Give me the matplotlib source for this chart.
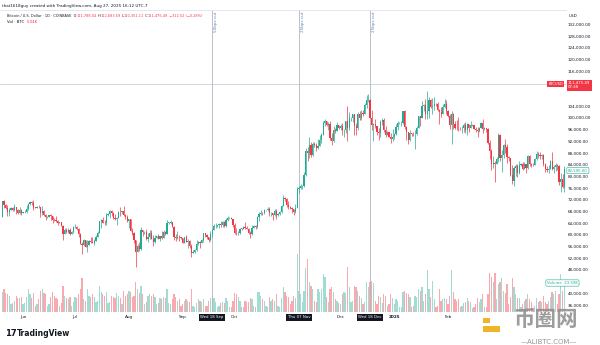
import numpy as np
import pandas as pd
import matplotlib
matplotlib.use('Agg')
import matplotlib.pyplot as plt
import matplotlib.dates as mdates
import matplotlib.transforms as mtrans

W, H = 600, 345
UP = '#22ab94'
DOWN = '#f23645'
TXT = '#131722'

# BTCUSD daily candles (Coinbase), prices in thousands of USD, from 2024-05-20
start = '2024-05-20'
first_open = 66.27
close = [
    71.45, 70.14, 69.12, 67.93, 68.53, 69.27, 68.50, 69.39, 68.36, 67.63, 68.35, 67.49,
    67.71, 67.75, 68.80, 70.57, 71.08, 70.76, 69.34, 69.31, 69.65, 69.51, 67.33, 68.24, 66.76, 66.01, 66.19,
    66.64, 66.49, 65.14, 64.96, 64.83, 64.10, 64.25, 63.18, 60.28, 61.80, 60.86, 61.67, 60.32, 60.89, 62.68,
    62.85, 62.03, 60.17, 57.03, 56.63, 58.23, 55.85, 56.70, 58.05, 57.72, 57.34, 57.90, 59.23, 60.80, 64.72,
    65.04, 64.09, 63.97, 66.71, 67.16, 68.16, 67.58, 65.93, 65.37, 65.78, 67.91, 67.81, 68.25, 66.78, 66.19, 64.62,
    65.35, 61.50, 60.68, 58.12, 54.02, 56.04, 55.03, 61.71, 60.88, 60.94, 58.71, 59.35, 60.60, 58.74, 57.56,
    58.87, 59.48, 58.48, 59.49, 59.01, 61.16, 60.38, 64.10, 64.18, 64.25, 62.83, 59.42, 59.03, 59.37, 59.12, 58.97,
    57.30, 59.13, 57.48, 57.97, 56.16, 53.95, 54.16, 54.87, 57.05, 57.65, 57.34, 58.13, 60.55, 60.00, 59.19,
    58.21, 60.31, 61.76, 62.95, 63.20, 63.35, 63.58, 63.34, 64.26, 63.14, 65.18, 65.79, 65.89, 65.60, 63.33,
    60.80, 60.63, 60.75, 62.07, 62.06, 62.82, 62.22, 62.13, 60.58, 60.27, 62.45, 63.19, 62.85, 66.08, 67.04,
    67.61, 67.38, 68.36, 68.37, 69.00, 67.37, 67.37, 66.68, 68.16, 66.64, 67.01, 67.93, 69.91, 72.72, 72.34, 70.22,
    69.48, 69.33, 68.74, 67.81, 69.36, 75.64, 75.90, 76.55, 76.69, 80.47, 88.70, 87.96, 90.58, 87.25, 91.07,
    90.59, 89.85, 90.46, 92.31, 94.29, 98.32, 98.89, 97.67, 97.90, 93.01, 91.97, 95.86, 95.64, 97.46, 96.41,
    97.19, 95.84, 96.00, 98.77, 96.59, 99.92, 99.92, 101.17, 97.32, 96.61, 101.17, 100.04, 101.46, 101.37, 104.30,
    106.03, 106.14, 100.04, 97.49, 97.76, 97.22, 95.10, 94.69, 98.68, 99.43, 95.79, 94.16, 95.16, 93.53, 92.64, 93.43,
    94.42, 96.89, 98.11, 98.23, 98.35, 102.24, 96.95, 95.04, 92.55, 94.73, 94.57, 94.49, 94.52, 96.53, 100.50,
    99.99, 104.08, 104.56, 101.33, 102.26, 106.15, 103.65, 103.96, 104.82, 104.71, 102.60, 102.08, 101.33, 103.73, 104.74, 102.40,
    100.65, 97.69, 101.40, 97.87, 96.62, 96.56, 96.53, 96.47, 96.50, 97.43, 95.78, 97.87, 96.62, 97.51,
    97.57, 96.12, 95.77, 95.54, 96.63, 98.33, 96.13, 96.58, 96.27, 91.55, 88.69, 84.37, 84.70, 84.37,
    86.03, 94.24, 86.12, 87.22, 90.62, 89.96, 86.74, 86.15, 80.60, 78.53, 82.86, 83.72, 81.07, 83.97, 84.34,
    82.58, 84.08, 82.72, 86.85, 84.17, 84.04, 83.83, 86.05, 87.50, 87.47, 86.90, 87.18, 84.35, 82.59, 82.34, 82.55,
    85.16, 82.51, 83.10, 83.84, 83.50, 78.21, 79.20, 76.27, 82.595,
]
high = [
    71.52, 71.95, 70.62, 70.07, 69.20, 69.56, 69.50, 70.59, 69.55, 68.90, 69.50, 69.00,
    67.86, 68.41, 70.22, 71.04, 71.76, 71.62, 71.95, 69.55, 69.85, 70.15, 69.56, 69.98, 68.40, 67.30, 66.42,
    66.90, 67.19, 66.48, 65.73, 66.43, 65.03, 64.50, 64.53, 63.37, 62.35, 62.47, 62.30, 62.20, 61.20, 63.08,
    63.80, 62.93, 62.26, 60.48, 57.53, 58.47, 58.27, 58.20, 58.27, 59.44, 59.43, 58.55, 59.85, 61.40, 64.88,
    65.30, 66.05, 65.10, 67.45, 67.60, 68.36, 68.45, 67.78, 67.08, 66.15, 68.22, 69.40, 68.30, 70.00, 66.98, 66.80,
    65.60, 65.55, 62.20, 61.10, 58.30, 57.05, 57.70, 62.75, 61.75, 61.45, 61.85, 60.70, 61.57, 61.80, 59.85,
    59.80, 59.65, 60.26, 59.62, 61.40, 61.80, 61.40, 64.95, 64.50, 65.00, 64.50, 63.20, 60.20, 61.20, 59.90, 59.45,
    59.00, 59.40, 59.80, 58.50, 58.30, 56.96, 54.85, 55.30, 58.10, 58.00, 57.99, 58.60, 60.65, 60.60, 60.40,
    59.20, 61.30, 62.00, 63.85, 64.13, 63.55, 64.00, 64.75, 64.80, 64.70, 65.80, 66.50, 66.25, 66.08, 65.60,
    64.10, 62.40, 61.50, 62.45, 62.35, 63.00, 64.45, 63.20, 62.50, 61.30, 63.40, 63.45, 63.27, 66.50, 67.88,
    68.38, 67.90, 68.95, 68.66, 69.40, 69.50, 67.80, 67.42, 68.80, 68.75, 67.35, 68.28, 70.25, 73.62, 72.95, 72.70,
    71.60, 69.88, 69.40, 68.90, 70.55, 76.40, 76.85, 77.25, 76.95, 81.50, 89.60, 89.95, 93.43, 91.80, 91.85,
    91.74, 91.40, 92.65, 94.00, 94.90, 98.90, 99.58, 98.75, 98.60, 98.85, 94.75, 97.25, 96.65, 98.70, 97.45,
    97.85, 98.15, 96.30, 99.00, 103.90, 101.90, 100.45, 101.40, 101.35, 98.25, 101.90, 102.50, 102.60, 102.60, 105.20,
    107.80, 108.27, 106.50, 102.80, 98.10, 99.50, 97.30, 96.40, 99.40, 99.95, 99.95, 97.30, 95.65, 95.20, 94.90, 96.10,
    94.95, 97.75, 98.95, 98.70, 98.80, 102.50, 102.70, 97.25, 95.35, 95.85, 94.95, 95.35, 95.85, 97.35, 100.70,
    100.80, 105.90, 104.90, 106.30, 109.35, 107.20, 106.30, 106.80, 107.10, 105.25, 105.45, 103.20, 103.75, 104.80, 106.45, 106.00,
    102.80, 101.45, 102.50, 101.75, 99.00, 99.20, 100.20, 96.85, 97.30, 98.35, 98.50, 98.10, 97.95, 98.80,
    97.95, 97.70, 97.05, 96.75, 96.90, 98.75, 99.50, 96.90, 96.65, 96.50, 92.50, 89.35, 87.00, 85.10,
    86.60, 95.00, 94.40, 88.90, 91.00, 92.80, 91.20, 86.85, 86.45, 83.95, 83.60, 84.35, 84.30, 85.20, 84.65,
    85.00, 84.80, 84.00, 87.40, 87.40, 84.75, 84.50, 86.20, 88.75, 88.50, 88.30, 87.80, 87.50, 84.60, 83.55, 83.90,
    85.50, 88.50, 83.95, 84.70, 84.20, 83.80, 81.20, 80.80, 83.50,
]
low = [
    66.06, 69.16, 68.98, 66.31, 66.61, 68.39, 68.24, 68.25, 67.28, 67.12, 67.13, 66.66,
    67.44, 67.32, 67.63, 68.55, 70.38, 70.15, 68.50, 69.21, 69.13, 69.23, 66.13, 66.92, 66.30, 65.08, 65.89,
    66.05, 65.13, 64.07, 64.69, 64.53, 63.38, 63.95, 63.17, 58.40, 60.25, 60.69, 60.60, 60.02, 60.30, 60.75,
    62.52, 61.81, 59.45, 56.80, 53.49, 56.08, 55.78, 54.30, 56.40, 57.20, 57.10, 56.55, 57.78, 59.23, 60.65,
    62.40, 63.90, 63.24, 63.30, 66.56, 65.80, 66.60, 65.45, 65.13, 63.48, 65.75, 66.60, 67.05, 66.52, 65.35, 64.53,
    62.30, 61.20, 59.85, 57.20, 49.05, 54.00, 54.55, 54.75, 59.60, 60.30, 58.30, 57.65, 58.50, 58.43, 56.17,
    57.10, 58.80, 58.43, 57.85, 58.60, 58.80, 59.80, 60.36, 63.58, 63.80, 62.80, 58.10, 57.85, 58.75, 57.77, 58.75,
    57.20, 57.17, 57.42, 55.60, 55.65, 52.55, 53.75, 53.65, 54.60, 56.40, 55.55, 57.35, 57.65, 59.45, 58.72,
    57.50, 57.85, 59.20, 61.60, 62.35, 62.78, 62.40, 62.60, 62.70, 62.70, 62.70, 64.83, 65.43, 65.43, 62.85,
    60.20, 59.98, 59.83, 60.45, 61.70, 61.87, 62.15, 61.85, 60.30, 58.90, 60.08, 62.43, 62.08, 62.45, 64.81,
    66.75, 66.70, 67.10, 68.03, 68.08, 66.60, 66.58, 65.26, 66.55, 65.55, 66.50, 66.80, 67.58, 69.73, 71.45, 69.70,
    68.80, 68.96, 67.45, 66.80, 67.46, 69.30, 74.42, 75.55, 75.82, 76.49, 80.20, 85.10, 86.25, 86.65, 87.12,
    90.05, 88.80, 89.30, 90.95, 91.55, 94.10, 97.20, 97.20, 95.80, 92.60, 90.80, 91.80, 94.70, 95.40, 96.20,
    95.75, 94.20, 93.60, 94.70, 92.10, 95.95, 98.95, 98.75, 94.30, 94.25, 95.70, 99.40, 99.20, 100.65, 101.25,
    103.30, 105.30, 100.00, 95.70, 92.20, 96.40, 94.20, 92.40, 93.40, 97.60, 95.20, 93.30, 94.20, 93.30, 91.30, 92.20,
    92.80, 94.20, 96.00, 97.75, 97.25, 97.90, 96.20, 92.50, 91.20, 92.20, 93.85, 93.70, 89.25, 94.30, 96.50,
    97.30, 99.95, 102.30, 99.60, 99.50, 100.10, 103.40, 101.25, 102.80, 104.15, 102.50, 97.75, 100.30, 101.30, 103.30, 101.50,
    100.30, 96.20, 91.20, 96.15, 96.20, 95.70, 95.65, 95.70, 94.70, 95.25, 94.85, 94.10, 95.30, 96.50,
    97.25, 96.05, 95.25, 93.40, 95.05, 96.40, 94.85, 95.75, 95.25, 91.20, 86.10, 82.25, 82.75, 78.20,
    84.20, 85.05, 85.10, 81.50, 86.40, 87.90, 84.70, 85.30, 80.10, 77.50, 76.55, 80.00, 79.95, 80.80, 83.65,
    82.10, 82.50, 81.20, 82.70, 83.70, 83.20, 83.65, 83.75, 85.50, 86.30, 85.90, 85.85, 83.60, 81.65, 81.60, 81.30,
    82.40, 82.30, 81.20, 81.70, 82.35, 77.15, 74.50, 76.20, 74.60,
]
# daily volume, thousands of BTC
volume = [
    16, 18, 15, 14, 13, 6, 7, 9, 13, 11, 11, 12,
    6, 7, 12, 18, 14, 11, 15, 5, 6, 10, 17, 18, 15, 14, 5,
    6, 12, 16, 13, 11, 10, 5, 7, 21, 13, 11, 10, 12, 5, 8,
    12, 11, 14, 18, 27, 10, 9, 18, 13, 12, 14, 12, 8, 9, 21,
    16, 14, 13, 16, 7, 8, 13, 12, 11, 15, 13, 11, 6, 17, 13, 14,
    17, 16, 12, 13, 24, 18, 15, 21, 14, 6, 8, 13, 14, 13, 14,
    12, 6, 7, 11, 10, 12, 11, 18, 7, 6, 10, 14, 12, 9, 10, 5,
    6, 9, 10, 9, 8, 18, 5, 4, 7, 10, 9, 8, 10, 5, 5,
    9, 11, 13, 11, 8, 4, 5, 7, 8, 7, 11, 9, 4, 4, 9,
    15, 14, 12, 9, 4, 4, 9, 8, 8, 11, 10, 5, 4, 16, 16,
    13, 10, 9, 5, 4, 12, 9, 10, 9, 14, 5, 4, 11, 20, 16, 13,
    12, 6, 9, 13, 11, 46, 17, 14, 8, 17, 35, 42, 24, 21, 18,
    9, 8, 18, 16, 18, 30, 28, 12, 8, 18, 20, 16, 10, 9, 7,
    6, 14, 16, 15, 36, 20, 8, 9, 21, 20, 17, 13, 11, 6, 8,
    24, 20, 24, 25, 23, 9, 6, 13, 12, 7, 14, 13, 5, 6, 14, 11,
    6, 10, 9, 4, 4, 16, 17, 15, 14, 12, 4, 5, 13, 12, 18,
    17, 20, 9, 14, 33, 18, 12, 25, 10, 4, 5, 18, 9, 10, 11, 10,
    6, 13, 33, 16, 10, 9, 10, 4, 5, 7, 8, 11, 9, 8,
    3, 4, 6, 11, 8, 10, 14, 4, 4, 14, 31, 28, 24, 31,
    10, 22, 24, 27, 17, 15, 22, 6, 12, 27, 20, 14, 11, 11, 4,
    6, 9, 10, 14, 10, 8, 3, 5, 11, 8, 9, 8, 13, 8, 6, 9,
    12, 16, 14, 17, 6, 14, 30, 17, 23.59,
]

events = [('2024-09-18', '50bps cut', 'Wed 18 Sep'),
          ('2024-11-07', '25bps cut', 'Thu 07 Nov'),
          ('2024-12-18', '25bps cut', 'Wed 18 Dec')]
month_ticks = ['2024-06-01', '2024-07-01', '2024-08-01', '2024-09-01',
               '2024-10-01', '2024-12-01', '2025-01-01', '2025-02-01']
month_labels = ['Jun', 'Jul', 'Aug', 'Sep', 'Oct', 'Dec', '2025', 'Feb']
# price levels shown on the right scale (108k and 44k sit under the tag boxes)
price_ticks = [36000, 40000, 48000, 52000, 56000, 60000, 64000, 68000, 72000, 76000, 80000,
               84000, 88000, 92000, 96000, 100000, 104000, 116000, 120000, 124000, 128000, 132000]
last_price = 111475.49

plt.rcParams['font.family'] = ['DejaVu Sans', 'Noto Sans CJK SC']

dates = pd.date_range(start, periods=len(close), freq='D')
x = mdates.date2num(dates)
c = np.array(close) * 1000
o = np.r_[first_open, close[:-1]] * 1000
h = np.maximum(np.array(high) * 1000, np.maximum(o, c))
l = np.minimum(np.array(low) * 1000, np.minimum(o, c))
up = c >= o
cols = np.where(up, UP, DOWN)

fig = plt.figure(figsize=(W / 100, H / 100), dpi=100)
ax = fig.add_axes([0, 33 / H, 566 / W, 302 / H])
axv = ax.twinx()

# volume pane underneath the candles
axv.bar(x, volume, width=0.72, color=cols, alpha=0.42, linewidth=0)
axv.set_ylim(0, 240)
axv.set_axis_off()
ax.set_zorder(axv.get_zorder() + 1)
ax.patch.set_visible(False)

ax.vlines(x, l, h, colors=cols, linewidth=0.5)
ax.bar(x, np.maximum(np.abs(c - o), 150), bottom=np.minimum(o, c),
       width=0.7, color=cols, linewidth=0)

ax.set_xlim(x[0] - 1.3, x[0] + 325.0)
ax.set_ylim(33641, 136889)

ax.yaxis.tick_right()
ax.set_yticks(price_ticks)
ax.set_yticklabels([f'{v:,.2f}' for v in price_ticks])
ax.set_xticks(mdates.date2num(pd.to_datetime(month_ticks)))
ax.set_xticklabels(month_labels)
ax.get_xticklabels()[month_labels.index('2025')].set_fontweight('bold')
ax.tick_params(axis='y', length=0, pad=1.5, labelsize=3.0, labelcolor=TXT)
ax.tick_params(axis='x', length=0, pad=2.5, labelsize=3.0, labelcolor=TXT)
for s in ['left', 'right', 'bottom']:
    ax.spines[s].set_visible(False)
ax.spines['top'].set_color('#e0e3eb')
ax.spines['top'].set_linewidth(0.6)

# last price line and its labels
ax.axhline(last_price, color='#c3c6ce', lw=0.5, zorder=1)
ax.text(563 / 566, last_price, 'BTCUSD', transform=ax.get_yaxis_transform(),
        ha='right', va='center', fontsize=2.6, color='white',
        bbox=dict(boxstyle='square,pad=0.3', fc=DOWN, ec='none'))
fig.text(568 / W, 1 - 81 / H, f'{last_price:,.2f}\n07:48', ha='left', va='top',
         fontsize=2.8, color='white', linespacing=1.1,
         bbox=dict(boxstyle='square,pad=0.35', fc=DOWN, ec='none'))
fig.text(568 / W, 1 - 170.5 / H, f'{c[-1]:,.2f}', ha='left', va='center',
         fontsize=2.8, color=UP,
         bbox=dict(boxstyle='round,pad=0.3,rounding_size=0.3', fc='white', ec=UP, lw=0.4))
fig.text(547 / W, 1 - 283 / H, f'Volume  {volume[-1]:.2f}K', ha='left', va='center',
         fontsize=2.8, color=UP,
         bbox=dict(boxstyle='round,pad=0.3,rounding_size=0.3', fc='white', ec=UP, lw=0.4))
fig.text(569 / W, 1 - 16 / H, 'USD', ha='left', va='center', fontsize=3.0, color=TXT)

# rate cut markers
tr = mtrans.blended_transform_factory(ax.transData, ax.transAxes)
for d, note, lab in events:
    xd = mdates.date2num(pd.Timestamp(d))
    ax.axvline(xd, color='#b2b5be', lw=0.6, zorder=0.5)
    ax.text(xd + 2.3, 0.993, note, transform=tr, rotation=90, ha='center', va='top',
            fontsize=3.0, color='#5b84b1')
    ax.text(xd, -0.018, lab, transform=tr, ha='center', va='center', fontsize=2.8,
            color='white', bbox=dict(boxstyle='square,pad=0.4', fc=TXT, ec='none'))

# header and legend
fig.text(2 / W, 1 - 5.5 / H, 'that1618guy created with TradingView.com, Aug 27, 2025 16:12 UTC-7',
         ha='left', va='center', fontsize=3.0, color=TXT)


def text_run(x0, y0, pieces, size=2.5):
    r = fig.canvas.get_renderer()
    xp = x0
    for s, col in pieces:
        t = fig.text(xp / W, 1 - y0 / H, s, ha='left', va='center', fontsize=size, color=col)
        xp += t.get_window_extent(renderer=r).width


text_run(7, 15.7, [('Bitcoin / U.S. Dollar · 1D · COINBASE  O', TXT), ('111,788.04', DOWN),
                   (' H', TXT), ('112,683.59', DOWN), (' L', TXT), ('110,351.11', DOWN),
                   (' C', TXT), ('111,475.49', DOWN), (' \u2212312.52 (\u22120.28%)', DOWN)])
text_run(7, 22, [('Vol · BTC  ', TXT), ('5.04K', DOWN)], size=2.75)

# footer logo
fig.text(5 / W, 1 - 333 / H, '17', ha='left', va='center', fontsize=6, fontweight='heavy', color=TXT)
fig.text(17 / W, 1 - 333 / H, 'TradingView', ha='left', va='center', fontsize=5.5,
         fontweight='bold', color=TXT)

# site watermark
fig.text(514 / W, 1 - 320 / H, '币圈网', ha='left', va='center', fontsize=15.5,
         family=['Noto Sans CJK SC'], fontweight='bold', color='#8c8c8c', alpha=0.85)
fig.text(549 / W, 1 - 341.5 / H, '—ALIBTC.COM—', ha='center', va='center', fontsize=5,
         color='#8c8c8c', alpha=0.9)
fig.patches.append(plt.Rectangle((483 / W, 1 - 323 / H), 7 / W, 5 / H, transform=fig.transFigure,
                                 fc='#f0b429', ec='none'))
fig.patches.append(plt.Rectangle((483 / W, 1 - 332 / H), 17 / W, 6 / H, transform=fig.transFigure,
                                 fc='#f0b429', ec='none'))

fig.savefig('out.png', dpi=100, facecolor='white')
